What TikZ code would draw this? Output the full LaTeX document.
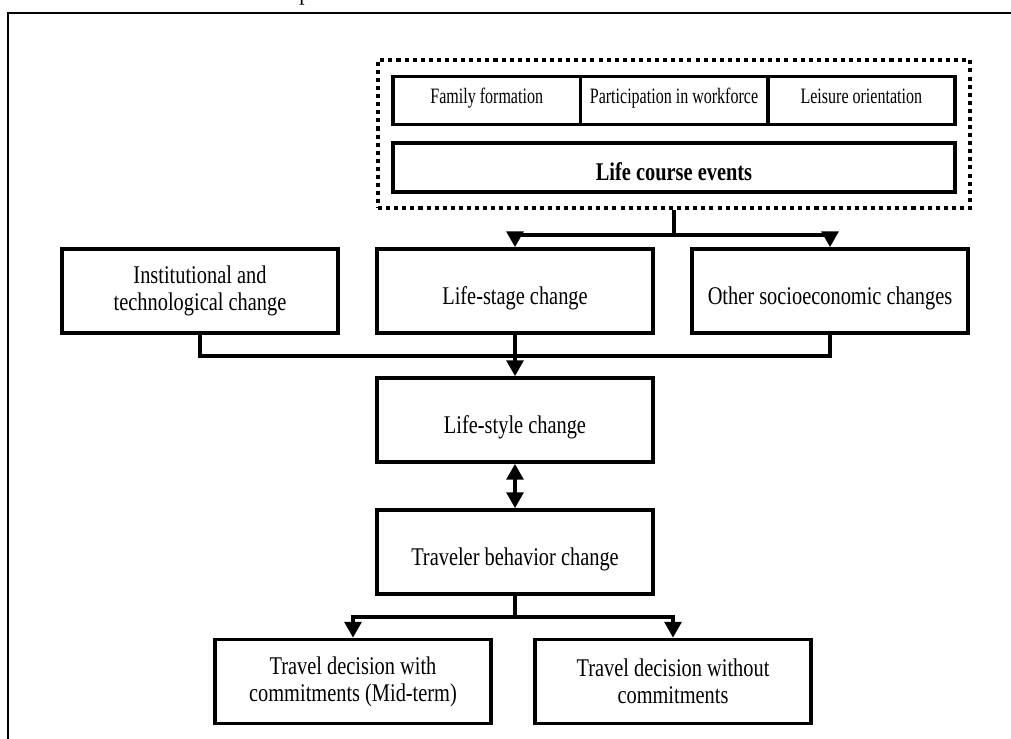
\documentclass[tikz,border=0pt]{standalone}
\usepackage{fontspec}
\setmainfont[FakeStretch=0.8]{Liberation Serif}
\newfontfamily\narrowserif[FakeStretch=0.73]{Liberation Serif}
\usetikzlibrary{arrows.meta}
\tikzset{
  stagebox/.style={draw, line width=2.1pt, minimum width=5.52cm, minimum height=1.68cm,
    align=center, inner sep=2pt, font=\fontsize{14.5}{15.3}\selectfont},
  oneline/.style={text height=0.64cm, text depth=0.12cm},
  eventbox/.style={draw, line width=2.1pt, minimum width=3.747cm, minimum height=0.96cm,
    inner sep=1pt, text height=0.3cm, text depth=0.2cm,
    font=\narrowserif\fontsize{12.5}{14}\selectfont},
  link/.style={line width=2.1pt},
  arr/.style={link, -{Triangle[width=9.5pt,length=9pt]}},
}
\begin{document}
\begin{tikzpicture}[x=0.02cm, y=-0.02cm]
    \useasboundingbox (0,0) rectangle (1011,738);
    % outer frame, cut off at the right and bottom
    \draw[line width=1.1pt] (1040,13) -- (8,13) -- (8,760);
    \node[anchor=base west, inner sep=0pt, font=\fontsize{15.3}{18}\selectfont] (titlep) at (299,-1) {p};

    % life course events
    \node[draw, line width=2.3pt, dash pattern=on 2.3pt off 2.3pt, minimum width=11.84cm,
      minimum height=2.96cm] (course) at (674,134) {};
    \node[eventbox] (family) at (486.7,100.5) {Family formation};
    \node[eventbox] (work) at (674,100.5) {Participation in workforce};
    \node[eventbox] (leisure) at (861.3,100.5) {Leisure orientation};
    \node[stagebox, oneline, minimum width=11.24cm, minimum height=0.98cm, inner sep=0pt,
      font=\bfseries\fontsize{14.5}{15.3}\selectfont] (events) at (674,167.5) {Life course events};

    % changes
    \node[stagebox] (inst) at (200,291) {Institutional and\\technological change};
    \node[stagebox, oneline] (stage) at (515,291) {Life-stage change};
    \node[stagebox, oneline] (other) at (830,291) {Other socioeconomic changes};
    \node[stagebox, oneline] (style) at (515,420) {Life-style change};
    \node[stagebox, oneline] (travel) at (515,552) {Traveler behavior change};
    \node[stagebox] (withc) at (353,681.5) {Travel decision with\\commitments (Mid-term)};
    \node[stagebox] (withoutc) at (673,681.5) {Travel decision without\\commitments};

    % connectors
    \coordinate (split1) at (674,235);
    \coordinate (join1) at (515,356);
    \coordinate (split2) at (515,617);
    \draw[link] (course.south) -- (split1);
    \draw[arr] (split1) -| (stage.north);
    \draw[arr] (split1) -| (other.north);
    \draw[link] (inst.south) |- (join1);
    \draw[link] (other.south) |- (join1);
    \draw[arr] (stage.south) -- (style.north);
    \draw[link, {Triangle[width=9.5pt,length=9pt]}-{Triangle[width=9.5pt,length=9pt]}] (style.south) -- (travel.north);
    \draw[link] (travel.south) -- (split2);
    \draw[arr] (split2) -| (withc.north);
    \draw[arr] (split2) -| (withoutc.north);
\end{tikzpicture}
\end{document}
